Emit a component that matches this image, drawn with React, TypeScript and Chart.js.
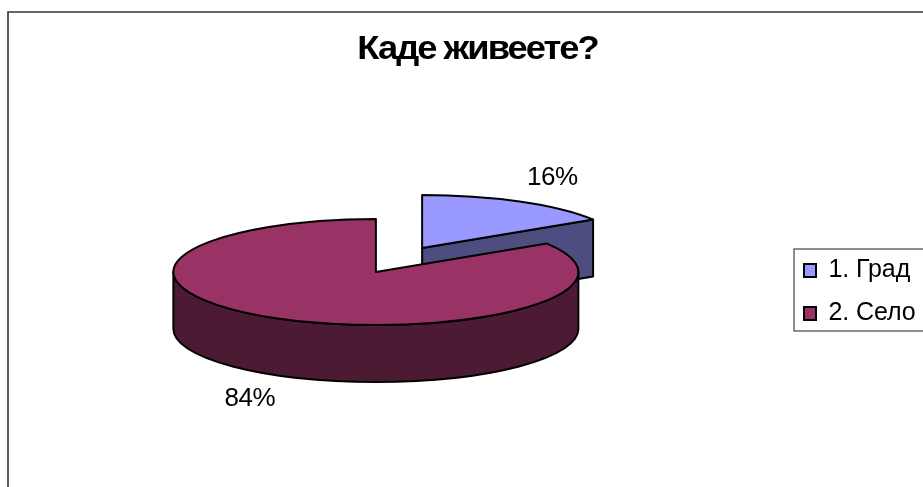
import React, { useEffect, useRef } from "react";
import { Chart, registerables } from "chart.js";

Chart.register(...registerables);

const chartTitle = "Каде живеете?";
const categories = ["1. Град", "2. Село"];
const shares = [16, 84];
const topColors = ["#9999FF", "#993366"];
const sideColors = ["#4D4D80", "#4D1A33"];

const CX = 399, CY = 260, RX = 202.5, RY = 53, DEPTH = 57;
const EXPLODE_X = 48, EXPLODE_Y = 13.7;
const LABEL_RX = 266, LABEL_RY = 80, LABEL_SHIFT = 2;
const TITLE_CENTER = 477.5, TITLE_STRETCH = 1.1;
const FONT = "'Liberation Sans', Arial, sans-serif";

const pie3d = {
  id: "pie3d",
  afterLayout(chart: any) {
    const a = chart.chartArea;
    a.left = CX - 300; a.right = CX + 300; a.top = CY - 300; a.bottom = CY + 300;
    const lg = chart.legend;
    lg.left = 786; lg.right = 960; lg.top = 205; lg.bottom = 379; lg.width = 174; lg.height = 174;
    const tb = chart.titleBlock;
    tb.left = TITLE_CENTER - 200; tb.right = TITLE_CENTER + 200; tb.top = 30; tb.bottom = 70;
    if (!tb.__patched) {
      tb.__patched = true;
      const orig = tb.draw.bind(tb);
      tb.draw = (area: any) => {
        const c = chart.ctx;
        c.save();
        c.translate(TITLE_CENTER, 0);
        c.scale(TITLE_STRETCH, 1);
        c.translate(-TITLE_CENTER, 0);
        c.letterSpacing = "-1.8px";
        orig(area);
        c.restore();
      };
      const lo = lg.draw.bind(lg);
      lg.draw = (area: any) => {
        const c = chart.ctx; c.save(); c.letterSpacing = "-0.1px"; lo(area); c.restore();
      };
    }
  },
  beforeDraw(chart: any) {
    const c = chart.ctx;
    c.save();
    c.fillStyle = "#ffffff";
    c.fillRect(0, 0, chart.width, chart.height);
    c.strokeStyle = "#333333";
    c.lineWidth = 1.6;
    c.beginPath();
    c.moveTo(8, chart.height + 2); c.lineTo(8, 12); c.lineTo(chart.width + 2, 12);
    c.stroke();
    c.lineWidth = 1.2;
    c.strokeStyle = "#444444";
    c.strokeRect(794, 249, 140, 82);
    c.restore();
  },
  beforeDatasetDraw(chart: any) {
    const c = chart.ctx;
    const meta = chart.getDatasetMeta(0);
    const slices = meta.data.map((el: any, i: number) => {
      const p = el.getProps(["x", "y", "startAngle", "endAngle"], true);
      const mid = (p.startAngle + p.endAngle) / 2;
      return { i, el, start: p.startAngle, end: p.endAngle, mid,
        x: p.x + Math.cos(mid) * EXPLODE_X, y: p.y + Math.sin(mid) * EXPLODE_Y };
    }).sort((a: any, b: any) => a.y - b.y);

    c.save();
    c.lineJoin = "round";
    c.strokeStyle = "#000000";
    c.lineWidth = 2;
    const pt = (s: any, t: number) => [s.x + Math.cos(t) * RX, s.y + Math.sin(t) * RY];

    for (const s of slices) {
      // cut faces that look towards the viewer
      c.fillStyle = sideColors[s.i];
      if (Math.cos(s.end) > 1e-6) {
        const [ex, ey] = pt(s, s.end);
        c.beginPath();
        c.moveTo(s.x, s.y); c.lineTo(ex, ey); c.lineTo(ex, ey + DEPTH); c.lineTo(s.x, s.y + DEPTH);
        c.closePath(); c.fill(); c.stroke();
      }
      // outer wall: the part of the rim on the near half
      const from = Math.max(s.start, 0), to = Math.min(s.end, Math.PI);
      if (to > from) {
        c.beginPath();
        c.ellipse(s.x, s.y, RX, RY, 0, from, to);
        c.ellipse(s.x, s.y + DEPTH, RX, RY, 0, to, from, true);
        c.closePath(); c.fill(); c.stroke();
      }
      // top face
      c.fillStyle = topColors[s.i];
      c.beginPath();
      c.moveTo(s.x, s.y);
      c.ellipse(s.x, s.y, RX, RY, 0, s.start, s.end);
      c.closePath(); c.fill(); c.stroke();
    }

    // percentage labels
    c.fillStyle = "#000000";
    c.font = `26px ${FONT}`;
    c.letterSpacing = "-0.5px";
    c.textAlign = "center";
    c.textBaseline = "middle";
    for (const s of slices) {
      const lx = s.x + Math.cos(s.mid) * LABEL_RX + LABEL_SHIFT;
      const front = Math.sin(s.mid) > 0 ? DEPTH : 0;
      const ly = s.y + Math.sin(s.mid) * LABEL_RY + front;
      c.fillText(`${shares[s.i]}%`, lx, ly);
    }
    c.restore();
    return false;
  },
};

export default function App() {
  const ref = useRef<HTMLCanvasElement | null>(null);
  useEffect(() => {
    const chart = new Chart(ref.current as HTMLCanvasElement, {
      type: "pie",
      data: {
        labels: categories,
        datasets: [{
          data: shares,
          backgroundColor: topColors,
          borderColor: "#000000",
          borderWidth: 2,
        }],
      },
      options: {
        animation: false,
        responsive: false,
        devicePixelRatio: 1,
        radius: RX,
        rotation: 0,
        plugins: {
          tooltip: { enabled: false },
          title: {
            display: true,
            text: chartTitle,
            color: "#000000",
            font: { family: FONT, size: 33, weight: "bold" },
            padding: 0,
          },
          legend: {
            display: true,
            position: "right",
            align: "center",
            onClick: () => {},
            labels: {
              color: "#000000",
              boxWidth: 12,
              boxHeight: 13,
              padding: 18,
              font: { family: FONT, size: 25 },
            },
          },
        },
      } as any,
      plugins: [pie3d] as any,
    });
    return () => chart.destroy();
  }, []);
  return (
    <div style={{ position: "fixed", left: 0, top: 0, width: 923, height: 487, overflow: "hidden", background: "#fff" }}>
      <canvas ref={ref} width={923} height={487} style={{ display: "block", width: 923, height: 487, filter: "blur(0.35px)" }} />
    </div>
  );
}
